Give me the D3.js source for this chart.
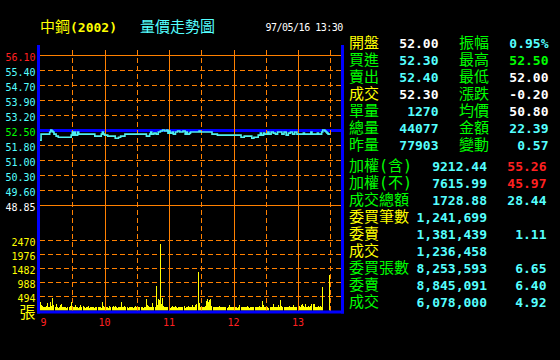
<!DOCTYPE html>
<html><head><meta charset="utf-8">
<script src="https://cdn.jsdelivr.net/npm/d3@7"></script>
<style>html,body{margin:0;padding:0;background:#000;overflow:hidden}svg{display:block}</style>
</head><body>
<svg id="c" width="560" height="360"></svg>
<script>
// ---------- data ----------
const stockName = "中鋼";
const stockCode = "(2002)";
const chartTitle = "量價走勢圖";
const dateTime = "97/05/16 13:30";
const priceTicks = ["56.10","55.40","54.70","53.90","53.20","52.50","51.80","51.00","50.30","49.60","48.85"];
const refPrice = 52.50;
const volTicks = [494, 988, 1482, 1976, 2470];
const volUnit = "張";
const hourLabels = ["9","10","11","12","13"];
const hourMinutes = [0, 60, 120, 180, 240];
const gridMinutes = [30, 60, 90, 120, 150, 180, 210, 240, 270];
const priceMinutes = [0,1,9,10,11,12,13,15,17,29,30,31,32,33,35,36,51,57,58,59,60,63,70,73,75,79,99,102,103,104,106,108,110,112,114,116,118,119,120,121,123,124,126,128,130,133,135,136,137,139,140,148,149,160,165,187,190,197,199,203,205,206,208,209,212,213,215,217,219,221,223,225,227,229,231,233,235,237,239,241,245,246,252,253,258,259,262,263,265,266,267,268,270];
const prices = [52.00,52.30,52.40,52.50,52.45,52.40,52.30,52.20,52.15,52.25,52.40,52.25,52.40,52.25,52.40,52.30,52.20,52.30,52.40,52.30,52.25,52.20,52.10,52.15,52.20,52.30,52.20,52.30,52.40,52.30,52.35,52.30,52.40,52.45,52.50,52.45,52.50,52.35,52.45,52.35,52.40,52.30,52.40,52.45,52.40,52.45,52.30,52.40,52.30,52.35,52.40,52.45,52.40,52.30,52.25,52.15,52.20,52.10,52.15,52.25,52.35,52.25,52.35,52.30,52.40,52.30,52.40,52.35,52.30,52.40,52.40,52.30,52.40,52.25,52.35,52.40,52.30,52.40,52.30,52.30,52.35,52.30,52.40,52.30,52.35,52.30,52.40,52.50,52.45,52.40,52.35,52.30,52.30];
// volume per minute from 09:00
const volumes = [
310,200,150,120,110,130,160,280,130,120,
300,160,430,190,130,220,120,100,140,180,
230,140,120,130,110,100,140,120,170,310,
160,120,130,200,140,120,100,130,180,120,
150,110,100,130,120,170,100,120,140,110,
130,100,120,140,110,130,120,100,300,150,
140,120,130,110,100,150,120,130,160,110,
170,120,100,130,140,120,290,130,110,150,
130,110,100,120,140,110,130,100,120,160,
120,100,130,110,140,120,100,110,130,420,
190,150,120,110,130,260,140,130,870,190,
400,380,2320,240,440,160,120,130,110,140,
120,100,130,150,110,120,170,130,100,120,
140,110,130,120,160,100,120,130,150,110,
130,120,200,140,110,180,240,1350,260,140,
100,120,110,130,150,350,400,310,380,420,
170,130,120,110,140,120,130,150,110,120,
140,120,110,130,100,120,180,140,120,110,
130,110,140,120,100,130,200,120,140,110,
130,120,110,150,120,100,130,140,110,120,
130,110,120,140,150,130,120,350,200,140,
120,110,130,100,140,120,110,240,130,120,
140,120,210,130,360,160,140,120,130,110,
120,130,150,110,140,120,200,130,110,140,
120,160,140,210,240,150,130,240,140,120,
170,130,150,240,220,220,140,130,110,150,
130,160,140,820,0,0,0,0,0,1250];
const quoteLabelsL = ["開盤","買進","賣出","成交","單量","總量","昨量"];
const quoteValuesL = ["52.00","52.30","52.40","52.30","1270","44077","77903"];
const quoteLabelsR = ["振幅","最高","最低","漲跌","均價","金額","變動"];
const quoteValuesR = ["0.95%","52.50","52.00","-0.20","50.80","22.39","0.57"];
const marketLabels = ["加權(含)","加權(不)","成交總額","委買筆數","委賣","成交","委買張數","委賣","成交"];
const marketValues = ["9212.44","7615.99","1728.88","1,241,699","1,381,439","1,236,458","8,253,593","8,845,091","6,078,000"];
const marketExtra = ["55.26","45.97","28.44","","1.11","","6.65","6.40","4.92"];

// ---------- styles ----------
const C = {orange:"#ff8000", blue:"#0000ff", cyan:"#55ffff", green:"#00ff00", yellow:"#ffff00", red:"#ff2020", white:"#ffffff", line:"#50f0f0"};
const MONO = "'DejaVu Sans Mono','Noto Sans CJK TC',monospace";
const CJK = "'DejaVu Sans Mono','Noto Sans CJK TC',sans-serif";
const labelColL = [C.yellow,C.green,C.green,C.yellow,C.green,C.green,C.green];
const valueColL = [C.white,C.cyan,C.cyan,C.white,C.cyan,C.cyan,C.cyan];
const labelColR = [C.green,C.green,C.green,C.green,C.green,C.green,C.green];
const valueColR = [C.cyan,C.green,C.white,C.white,C.white,C.cyan,C.cyan];
const mLabelCol = [C.green,C.green,C.green,C.yellow,C.yellow,C.yellow,C.green,C.green,C.green];
const mExtraCol = [C.red,C.red,C.cyan,C.cyan,C.cyan,C.cyan,C.cyan,C.cyan,C.cyan];
const tickCol = (t,i,n)=> i===0 ? C.red : (i===n-1 ? C.white : (+t===refPrice ? C.green : C.cyan));

// ---------- scales ----------
const L = 40, R = 341;
const x = d3.scaleLinear().domain([0, 280]).range([L, R]);
const yGrid = d3.scalePoint().domain(priceTicks).range([55, 205]);
const yPrice = d3.scaleLinear().domain([48.85, 52.50, 56.10]).range([205, 130, 55]);
const yVol = d3.scaleLinear().domain([0, 2470]).range([310.5, 240]);

const svg = d3.select("#c");
svg.append("rect").attr("width",560).attr("height",360).attr("fill","#000");

// header
const h = svg.append("text").attr("x",40).attr("y",32).attr("fill",C.yellow);
h.append("tspan").attr("font-family",CJK).attr("font-size",15).text(stockName);
h.append("tspan").attr("font-family",MONO).attr("font-size",13).attr("font-weight","bold").text(stockCode);
svg.append("text").attr("x",140).attr("y",32).attr("fill",C.cyan).attr("font-family",CJK).attr("font-size",15).text(chartTitle);
svg.append("text").attr("x",265.5).attr("y",30.7).attr("fill",C.white).attr("font-family",MONO).attr("font-size",10).attr("letter-spacing",-0.5).text(dateTime);

// horizontal price grid
const g = svg.append("g");
priceTicks.forEach((t,i)=>{
  const y = Math.round(yGrid(t))+0.5;
  const isEdge = i===0 || i===priceTicks.length-1;
  const isRef = +t===refPrice;
  g.append("line").attr("x1",L).attr("x2",R).attr("y1",y).attr("y2",y)
    .attr("stroke", isRef ? C.blue : C.orange)
    .attr("stroke-width", isRef ? 3 : 1)
    .attr("stroke-dasharray", (isEdge||isRef) ? null : "5,3");
  svg.append("text").attr("x",35.5).attr("y",y+5).attr("text-anchor","end")
    .attr("fill",tickCol(t,i,priceTicks.length)).attr("font-family",MONO).attr("font-size",10).text(t);
});
// volume grid
volTicks.forEach(v=>{
  const y = Math.round(yVol(v))+0.5;
  g.append("line").attr("x1",L).attr("x2",R).attr("y1",y).attr("y2",y)
    .attr("stroke",C.orange).attr("stroke-dasharray","5,3");
  svg.append("text").attr("x",35.5).attr("y",y+5).attr("text-anchor","end")
    .attr("fill",C.yellow).attr("font-family",MONO).attr("font-size",10).text(v);
});
svg.append("text").attr("x",27.5).attr("y",318).attr("text-anchor","middle")
  .attr("fill",C.yellow).attr("font-family",CJK).attr("font-size",16).text(volUnit);

// volume bars
svg.append("g").selectAll("rect").data(volumes).join("rect")
  .attr("x",(d,i)=>Math.floor(x(i)))
  .attr("width",1)
  .attr("y",d=>Math.round(yVol(d)))
  .attr("height",d=>yVol(0)-Math.round(yVol(d)))
  .attr("fill",C.yellow);

// vertical grid
gridMinutes.forEach(m=>{
  const xx = Math.round(x(m))+0.5;
  svg.append("line").attr("x1",xx).attr("x2",xx).attr("y1",50).attr("y2",311)
    .attr("stroke",C.orange).attr("stroke-dasharray", m%60===0 ? null : "5,3");
});

// price line
const line = d3.line().curve(d3.curveStepAfter).x(d=>x(d[0])).y(d=>yPrice(d[1]));
svg.append("path").datum(priceMinutes.map((m,i)=>[m,prices[i]]))
  .attr("d",line).attr("fill","none").attr("stroke",C.line).attr("stroke-width",1.6);

// frame
svg.append("rect").attr("x",37).attr("y",45).attr("width",3).attr("height",268.5).attr("fill",C.blue);
svg.append("rect").attr("x",R).attr("y",45).attr("width",3).attr("height",268.5).attr("fill",C.blue);
svg.append("rect").attr("x",37).attr("y",310.5).attr("width",R+3-37).attr("height",3).attr("fill",C.blue);

// x labels
hourLabels.forEach((t,i)=>{
  svg.append("text").attr("x", i===0 ? x(hourMinutes[i])+0.5 : x(hourMinutes[i]))
    .attr("y",326).attr("text-anchor", i===0 ? "start" : "middle")
    .attr("fill",C.red).attr("font-family",MONO).attr("font-size",10).text(t);
});

// right panel: quotes
quoteLabelsL.forEach((t,i)=>{
  const y = 47.5 + 17*i;
  svg.append("text").attr("x",349).attr("y",y).attr("fill",labelColL[i]).attr("font-family",CJK).attr("font-size",15).text(t);
  svg.append("text").attr("x",438.5).attr("y",y).attr("text-anchor","end").attr("fill",valueColL[i]).attr("font-family",MONO).attr("font-weight","bold").attr("font-size",13).text(quoteValuesL[i]);
  svg.append("text").attr("x",459).attr("y",y).attr("fill",labelColR[i]).attr("font-family",CJK).attr("font-size",15).text(quoteLabelsR[i]);
  svg.append("text").attr("x",548.5).attr("y",y).attr("text-anchor","end").attr("fill",valueColR[i]).attr("font-family",MONO).attr("font-weight","bold").attr("font-size",13).text(quoteValuesR[i]);
});
marketLabels.forEach((t,i)=>{
  const y = 170.5 + 17*i;
  svg.append("text").attr("x",349).attr("y",y).attr("fill",mLabelCol[i]).attr("font-family",CJK).attr("font-size",15).text(t);
  svg.append("text").attr("x",487).attr("y",y).attr("text-anchor","end").attr("fill",C.cyan).attr("font-family",MONO).attr("font-weight","bold").attr("font-size",13).text(marketValues[i]);
  if (marketExtra[i]) svg.append("text").attr("x",546.5).attr("y",y).attr("text-anchor","end").attr("fill",mExtraCol[i]).attr("font-family",MONO).attr("font-weight","bold").attr("font-size",13).text(marketExtra[i]);
});
</script>
</body></html>
